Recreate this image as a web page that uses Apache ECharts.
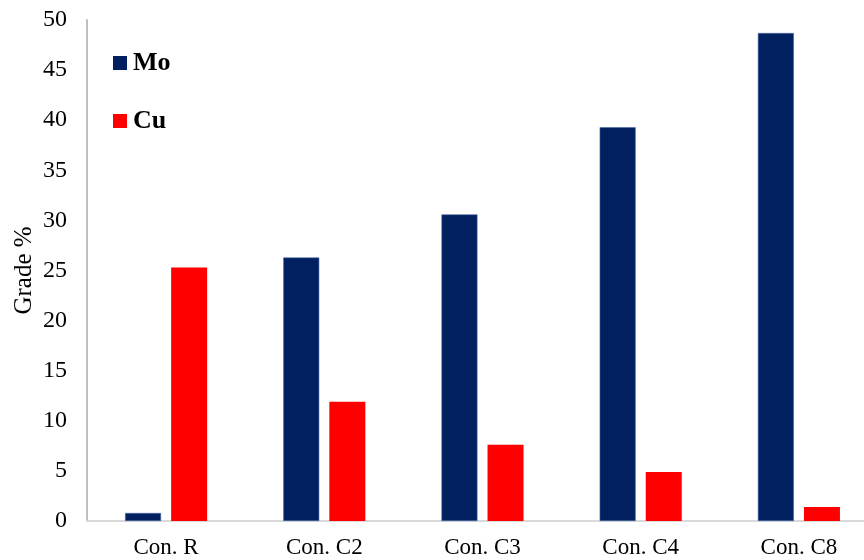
<!DOCTYPE html>
<html>
<head>
<meta charset="utf-8">
<script src="https://cdn.jsdelivr.net/npm/echarts@6/dist/echarts.min.js"></script>
<style>html,body{margin:0;padding:0;background:#fff;}#chart{width:864px;height:560px;}</style>
</head>
<body>
<div id="chart"></div>
<script>
const categories = ['Con. R', 'Con. C2', 'Con. C3', 'Con. C4', 'Con. C8'];
const moValues = [0.8, 26.3, 30.6, 39.3, 48.7];
const cuValues = [25.3, 11.9, 7.6, 4.9, 1.4];
const yTicks = { min: 0, max: 50, interval: 5 };

const font = '"Liberation Serif", "Times New Roman", serif';
const chart = echarts.init(document.getElementById('chart'));
chart.setOption({
  animation: false,
  backgroundColor: '#ffffff',
  grid: { left: 87, width: 791, top: 20, bottom: 39, containLabel: false, outerBoundsMode: 'none' },
  legend: {
    orient: 'vertical',
    left: 113,
    top: 50,
    padding: 0,
    itemWidth: 14,
    itemHeight: 14,
    itemGap: 32,
    icon: 'rect',
    data: [{ name: 'Mo', itemStyle: { borderWidth: 0 } }, { name: 'Cu' }],
    textStyle: { fontFamily: font, fontSize: 26, fontWeight: 'bold', color: '#000', padding: [0, 0, 0, 1] }
  },
  xAxis: {
    type: 'category',
    data: categories,
    axisLine: { lineStyle: { color: '#d9d9d9', width: 2 } },
    axisTick: { show: false },
    axisLabel: { fontFamily: font, fontSize: 23, color: '#000', margin: 15 }
  },
  yAxis: {
    type: 'value',
    min: yTicks.min, max: yTicks.max, interval: yTicks.interval,
    name: 'Grade %',
    nameLocation: 'middle',
    nameGap: 63,
    nameMoveOverlap: false,
    nameTextStyle: { fontFamily: font, fontSize: 25, color: '#000', verticalAlign: 'middle' },
    axisLine: { show: true, lineStyle: { color: '#bfbfbf', width: 2 } },
    axisTick: { show: false },
    splitLine: { show: false },
    axisLabel: { fontFamily: font, fontSize: 24, color: '#000', margin: 20 }
  },
  series: [
    {
      name: 'Mo', type: 'bar', data: moValues,
      barWidth: 36, barGap: '28%',
      itemStyle: { color: '#002060', borderColor: '#4a6aa8', borderWidth: 0.6 }
    },
    {
      name: 'Cu', type: 'bar', data: cuValues,
      barWidth: 36,
      itemStyle: { color: '#ff0000' }
    }
  ]
});
</script>
</body>
</html>
